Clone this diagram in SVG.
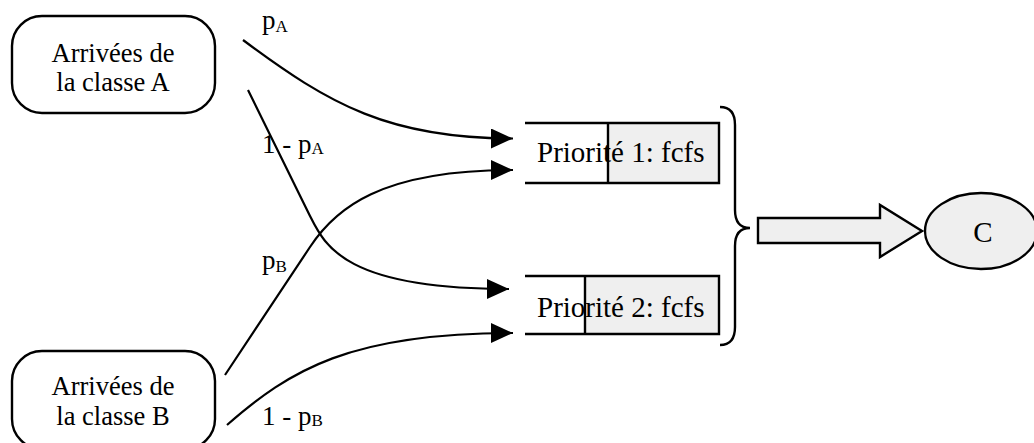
<svg xmlns="http://www.w3.org/2000/svg" width="1034" height="443" viewBox="0 0 1034 443">
<style>
text{font-family:"Liberation Serif","Times New Roman",serif;fill:#000}
.lbl{font-size:27px}
.sub{font-size:17px}
.box{fill:#fff;stroke:#000;stroke-width:2.4}
.ln{fill:none;stroke:#000;stroke-width:2.4}
.gray{fill:#efefef}
.conn{fill:none;stroke:#000;stroke-width:2.2;marker-end:url(#ah)}
</style>
<defs>
<marker id="ah" markerUnits="userSpaceOnUse" viewBox="0 0 22 20" markerWidth="22" markerHeight="20" refX="22" refY="10" orient="auto">
<path d="M0,0 L22,10 L0,20 z" fill="#000"/>
</marker>
</defs>
<rect width="1034" height="443" fill="#fff"/>
<g id="classA">
<rect class="box" x="12" y="16" width="203" height="97" rx="30" ry="30"/>
<text x="113" y="62" font-size="26.5" text-anchor="middle">Arrivées de</text>
<text x="113" y="91" font-size="26.5" text-anchor="middle">la classe A</text>
</g>
<g id="classB">
<rect class="box" x="12" y="351" width="203" height="98" rx="30" ry="30"/>
<text x="113" y="395" font-size="26.5" text-anchor="middle">Arrivées de</text>
<text x="113" y="425" font-size="26.5" text-anchor="middle">la classe B</text>
</g>
<g id="prio1">
<rect class="gray" x="608" y="123" width="111" height="60"/>
<text x="537" y="162" font-size="29">Priorité 1: fcfs</text>
<path class="ln" d="M525,123 H719 V183 H525 M608,123 V183"/>
</g>
<g id="prio2">
<rect class="gray" x="585" y="276" width="134" height="58"/>
<text x="537" y="317" font-size="29">Priorité 2: fcfs</text>
<path class="ln" d="M525,276 H719 V334 H525 M585,276 V334"/>
</g>
<g id="brace">
<path class="ln" d="M720,107 Q735,107 735,125 L735,210 Q735,228 750,228 Q735,228 735,246 L735,327 Q735,345 720,345"/>
</g>
<g id="bigarrow">
<polygon points="758,218 880,218 880,205 922,231 880,257 880,243 758,243" fill="#efefef" stroke="#000" stroke-width="2.4" stroke-linejoin="miter"/>
</g>
<g id="serverC">
<ellipse cx="981" cy="231" rx="56" ry="38" fill="#efefef" stroke="#000" stroke-width="2.4"/>
<text x="983" y="242" font-size="29" text-anchor="middle">C</text>
</g>
<g id="connectors">
<path class="conn" d="M243,40 C330,105 390,138.5 513,138.5"/>
<path class="conn" d="M248,90 L310,216 C325,246 345,289 509,289"/>
<path class="conn" d="M225,375 L310,247 C335,209 380,170 513,170"/>
<path class="conn" d="M227,425 C290,370 350,333 513,333"/>
</g>
<g id="labels">
<text class="lbl" x="262" y="29">p<tspan class="sub" dy="3">A</tspan></text>
<text class="lbl" x="262" y="153">1 - p<tspan class="sub" dy="1">A</tspan></text>
<text class="lbl" x="262" y="269">p<tspan class="sub" dy="3">B</tspan></text>
<text class="lbl" x="262" y="425">1 - p<tspan class="sub" dy="1">B</tspan></text>
</g>
</svg>
